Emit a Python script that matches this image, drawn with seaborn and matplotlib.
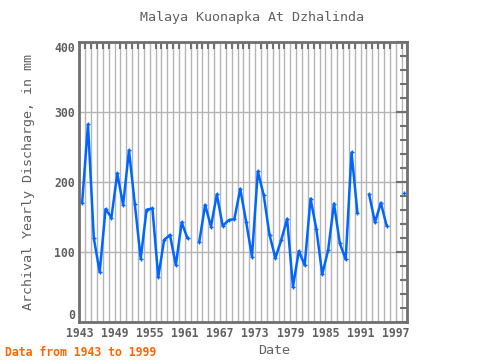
import matplotlib
matplotlib.use("Agg")
import matplotlib.pyplot as plt
from matplotlib.ticker import MultipleLocator, FixedLocator
import seaborn as sns
import pandas as pd
import numpy as np

# yearly discharge (mm), None = no data
years = list(range(1943, 1999))
discharge = [170, 282, 119, 71, 161, 149, 212, 167, 245, 168,
             90, 160, 162, 64, 117, 124, 81, 142, 119, None,
             114, 167, 136, 182, 137, 145, 147, 190, 143, 93,
             215, 181, 124, 91, 117, 147, 50, 101, 81, 176,
             132, 68, 102, 169, 112, 89, 242, 156, None, 182,
             142, 170, 137, None, None, 184]
xtick_years = [1943, 1949, 1955, 1961, 1967, 1973, 1979, 1985, 1991, 1997]
title = "Malaya Kuonapka At Dzhalinda"
ylabel = "Archival Yearly Discharge, in mm"
xlabel = "Date"
note = "Data from 1943 to 1999"

df = pd.DataFrame({"year": years, "discharge": discharge}, dtype=float)
# values are yearly, plotted mid-year
df["date"] = df["year"] + 0.45
# split into runs at the gaps so the line breaks there
df["segment"] = df["discharge"].isna().cumsum()
df = df.dropna()

sns.set_style("white")
plt.rcParams["font.family"] = ["DejaVu Sans Mono"]
plt.rcParams["font.weight"] = "bold"

fig = plt.figure(figsize=(4.8, 3.6), dpi=100)
ax = fig.add_axes([0.1656, 0.1064, 0.6833, 0.777])

blue = "#0066ff"
sns.lineplot(data=df, x="date", y="discharge", units="segment", estimator=None,
             color=blue, linewidth=1.8, marker="+", markersize=2.5,
             markeredgewidth=1, markeredgecolor=blue, ax=ax)

ax.set_xlim(1943, 1999)
ax.set_ylim(0, 400)

grey = "#707070"
ax.xaxis.set_major_locator(FixedLocator(xtick_years))
ax.xaxis.set_minor_locator(MultipleLocator(1))
ax.yaxis.set_major_locator(FixedLocator([0, 100, 200, 300, 400]))
ax.yaxis.set_minor_locator(MultipleLocator(20))

ax.grid(True, which="both", axis="x", color="#b4b4b4", linewidth=1)
ax.grid(True, which="major", axis="y", color="#b4b4b4", linewidth=1)
ax.set_axisbelow(True)

ax.tick_params(which="both", direction="in", top=True, right=True,
               color=grey, labelcolor="#606060", labelsize=8.3, width=1.5)
ax.tick_params(which="major", length=8)
ax.tick_params(which="minor", length=5)
ax.tick_params(axis="x", which="major", length=0, pad=4)

# end labels sit inside the axis range
yt = ax.yaxis.get_major_ticks()
yt[0].label1.set_va("bottom")
yt[-1].label1.set_va("top")

for s in ax.spines.values():
    s.set_color(grey)
    s.set_linewidth(2)
    s.set_visible(True)

ax.set_title(title, fontsize=9.6, color="#606060", pad=15, x=0.526)
ax.set_xlabel(xlabel, fontsize=9.6, color="#606060", labelpad=1)
ax.xaxis.set_label_coords(0.593, -0.08)
ax.set_ylabel(ylabel, fontsize=9.6, color="#606060", labelpad=14)
fig.text(0.01, 0.012, note, fontsize=8.3, color="#ff6600", fontweight="bold")

fig.savefig("out.png", dpi=100)
